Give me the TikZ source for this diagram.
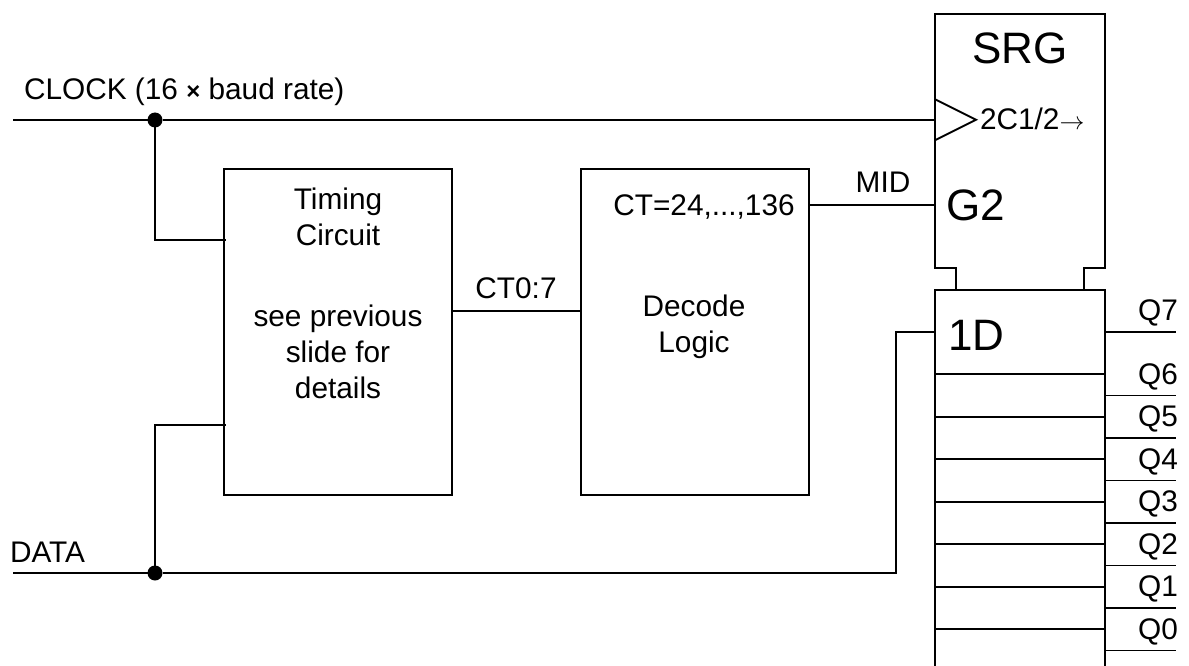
\documentclass[tikz,border=0pt]{standalone}
\usepackage{fontspec}
\setmainfont{Liberation Sans}
\usetikzlibrary{positioning}
\usetikzlibrary{calc}

\begin{document}
\begin{tikzpicture}[
    x=1pt, y=-1pt,
    line width=1.8pt,
    every node/.style={font=\fontsize{29.8}{36}\selectfont, inner sep=0pt, outer sep=0pt},
    block/.style={draw, minimum width=228pt, minimum height=326pt},
    cell/.style={draw, minimum width=170pt, minimum height=42.5pt},
    junction/.style={circle, fill=black, minimum size=15pt},
    big/.style={font=\fontsize{44}{44}\selectfont, anchor=base},
    tag/.style={anchor=base}
]
\useasboundingbox (0,0) rectangle (1189,666);

\node[block] (timing) at (338,332) {};
\node[block, right=129pt of timing] (decode) {};
\node[minimum width=170pt, minimum height=254.5pt] (srg) at (1020,141) {};
\node[cell, minimum height=84pt, below=22pt of srg] (cell7) {};
\node[cell, below=0pt of cell7] (cell6) {};
\node[cell, below=0pt of cell6] (cell5) {};
\node[cell, below=0pt of cell5] (cell4) {};
\node[cell, below=0pt of cell4] (cell3) {};
\node[cell, below=0pt of cell3] (cell2) {};
\node[cell, below=0pt of cell2] (cell1) {};
\node[cell, below=0pt of cell1] (cell0) {};

\coordinate (notchl) at ($(cell7.north west)+(21,0)$);
\coordinate (notchr) at ($(cell7.north east)+(-21,0)$);
\draw (notchl) |- (srg.south west) -- (srg.north west) -- (srg.north east) -- (srg.south east) -| (notchr);
\coordinate (clktip) at ($(srg.north west)+(41,106)$);
\draw ($(srg.north west)+(0,85.5)$) -- (clktip) -- ($(srg.north west)+(0,126.5)$);

\node[junction] (clkdot) at (155,120) {};
\node[junction] (datadot) at (155,573) {};
\coordinate (clkin) at (13,120);
\coordinate (datain) at (13,573);
\coordinate (timingclk) at (226,240);
\coordinate (timingdata) at (226,425);
\coordinate (datacorner) at (896,573);

\draw (clkin) -- (clkdot);
\draw (clkdot) -- (clkdot -| srg.west);
\draw (clkdot) |- (timingclk);
\draw (datain) -- (datadot);
\draw (datadot) |- (timingdata);
\draw (datadot) -- (datacorner) |- (cell7.west);
\draw (timing.east |- 0,311) -- (decode.west |- 0,311);
\draw (decode.east |- 0,205) -- (srg.west |- 0,205);

\foreach \i in {0,...,7} {
    \coordinate (qout\i) at ($(cell\i.east)+(71,0)$);
    \draw (cell\i.east) -- (qout\i);
    \node[tag] (qname\i) at ($(cell\i.east)+(53,-11.5)$) {Q\i};
}

\node[big] (srgname) at (1020,64) {SRG};
\node[big, anchor=base west] (gtwo) at (946,220) {G2};
\node[big, anchor=base west] (oned) at (948,350) {1D};
\node[anchor=base west] (clkctl) at (980,130) {2C1/2$\rightarrow$};
\node[tag] (ctlabel) at (516,298) {CT0:7};
\node[tag] (midlabel) at (883,193) {MID};
\node[anchor=base west] (datalabel) at (10,562) {DATA};
\node[anchor=base west] (clklabel) at (24,100) {CLOCK (16 {\fontsize{24}{24}\selectfont\bfseries ×} baud rate)};
\node[anchor=north, align=center] (timingtext) at (338,188) {Timing\\Circuit\\[45pt]see previous\\slide for\\details};
\node[tag] (cttext) at (704,215) {CT=24,...,136};
\node[anchor=north, align=center] (decodetext) at (694,295) {Decode\\Logic};
\end{tikzpicture}
\end{document}
